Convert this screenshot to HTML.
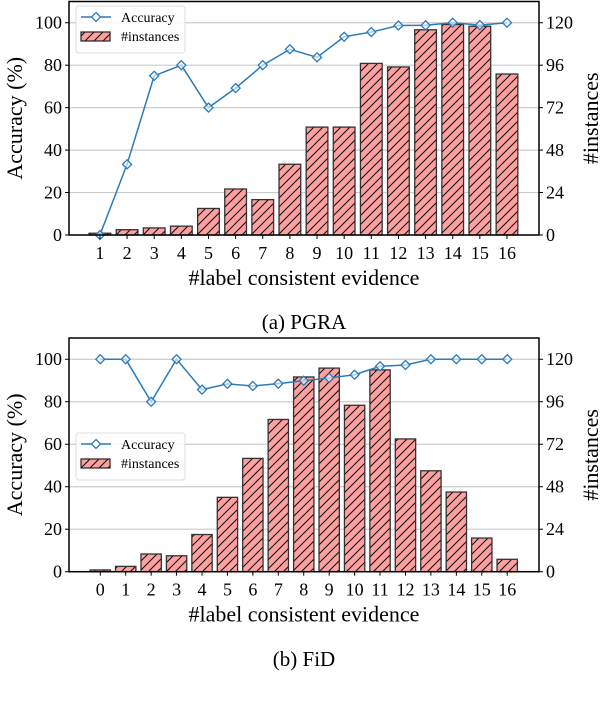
<!DOCTYPE html>
<html><head><meta charset="utf-8"><style>
body{margin:0;background:#fff;}
svg{display:block;font-family:"Liberation Serif",serif;}
</style></head><body>
<svg id="s" width="604" height="704" viewBox="0 0 604 704">
<defs>
<pattern id="hatch" patternUnits="userSpaceOnUse" width="9" height="9">
<rect width="9" height="9" fill="#ffa0a0"/>
<path d="M-1,10 L10,-1 M-1,1 L1,-1 M8,10 L10,8" stroke="#111" stroke-width="1.1"/>
</pattern>
</defs>
</svg>
<script>
const catsA=[1,2,3,4,5,6,7,8,9,10,11,12,13,14,15,16];
const instA=[1,3,4,5,15,26,20,40,61,61,97,95,116,119,118,91];
const accA=[0,33.3,75,80,60,69.2,80,87.5,83.7,93.4,95.6,98.7,98.8,100,98.9,100];
const catsB=[0,1,2,3,4,5,6,7,8,9,10,11,12,13,14,15,16];
const instB=[1,3,10,9,21,42,64,86,110,115,94,114,75,57,45,19,7];
const accB=[100,100,80,100,85.7,88.4,87.4,88.5,89.9,91.2,92.7,96.7,97.3,100,100,100,100];
const leftTicks=[0,20,40,60,80,100];
const rightTicks=[0,24,48,72,96,120];
const NS="http://www.w3.org/2000/svg";
const svg=document.getElementById('s');
function mk(tag,attrs,parent,txt){const e=document.createElementNS(NS,tag);for(const k in attrs)e.setAttribute(k,attrs[k]);if(txt!==undefined)e.textContent=txt;(parent||svg).appendChild(e);return e;}
function chart(cfg){
  const g=mk('g',{});
  
  
  const L=69,R=539,T=cfg.top,B=cfg.bottom;
  const x=v=>L+(v-cfg.xmin)/(cfg.xmax-cfg.xmin)*(R-L);
  const yl=v=>B-v/110*(B-T);
  const yr=v=>B-v/132*(B-T);
  const bw=(x(1)-x(0))*0.8;
  leftTicks.forEach(t=>{const l=mk('line',{x1:L,x2:R,y1:yl(t),y2:yl(t),stroke:'#cccccc','stroke-width':1.2},g);
    });
  cfg.cats.forEach((c,i)=>{const r=mk('rect',{x:x(c)-bw/2,y:yr(cfg.inst[i]),width:bw,height:B-yr(cfg.inst[i]),fill:'url(#hatch)',stroke:'#333','stroke-width':1.3},g);
    });
  const pts=cfg.cats.map((c,i)=>x(c)+','+yl(cfg.acc[i])).join(' ');
  const pl=mk('polyline',{points:pts,fill:'none',stroke:'#2b7bba','stroke-width':1.5},g);
  
  cfg.cats.forEach((c,i)=>{const cx=x(c),cy=yl(cfg.acc[i]);const m=mk('polygon',{points:`${cx},${cy-4.5} ${cx+4.5},${cy} ${cx},${cy+4.5} ${cx-4.5},${cy}`,fill:'#fff','fill-opacity':0.6,stroke:'#2b7bba','stroke-width':1.3},g);
    });
  const fr=mk('rect',{x:L,y:T,width:R-L,height:B-T,fill:'none',stroke:'#000','stroke-width':1.5},g);
  
  leftTicks.forEach(t=>{mk('line',{x1:L-4,x2:L,y1:yl(t),y2:yl(t),stroke:'#000'},g);
    const tx=mk('text',{x:L-7,y:yl(t)+6,'text-anchor':'end','font-size':18},g,t);
    });
  rightTicks.forEach(t=>{mk('line',{x1:R,x2:R+4,y1:yr(t),y2:yr(t),stroke:'#000'},g);
    const tx=mk('text',{x:R+7,y:yr(t)+6,'font-size':18},g,t);
    });
  cfg.cats.forEach(c=>{mk('line',{x1:x(c),x2:x(c),y1:B,y2:B+4,stroke:'#000'},g);
    const tx=mk('text',{x:x(c),y:B+24,'text-anchor':'middle','font-size':18},g,c);
    });
  const xl=mk('text',{x:(L+R)/2,y:B+50,'text-anchor':'middle','font-size':22},g,'#label consistent evidence');
  
  const cy=(T+B)/2;
  const ylt=mk('text',{x:22,y:cy,'text-anchor':'middle','font-size':22,transform:`rotate(-90 22 ${cy})`},g,'Accuracy (%)');
  
  const yrt=mk('text',{x:598,y:cy,'text-anchor':'middle','font-size':22,transform:`rotate(-90 598 ${cy})`},g,'#instances');
  
  const cap=mk('text',{x:304,y:cfg.capY,'text-anchor':'middle','font-size':21},g,cfg.caption);
  
  const lg=mk('g',{},g);
  
  const ly=cfg.legY;
  mk('rect',{x:76,y:ly,width:109,height:47,rx:3,fill:'#fff','fill-opacity':0.85,stroke:'#ddd'},lg);
  mk('line',{x1:81,x2:111,y1:ly+11,y2:ly+11,stroke:'#2b7bba','stroke-width':1.5},lg);
  mk('polygon',{points:`96,${ly+6.5} 100.5,${ly+11} 96,${ly+15.5} 91.5,${ly+11}`,fill:'#fff',stroke:'#2b7bba','stroke-width':1.3},lg);
  const t1=mk('text',{x:121,y:ly+16,'font-size':14},lg,'Accuracy');
  
  mk('rect',{x:81,y:ly+26,width:29,height:9,fill:'url(#hatch)',stroke:'#222','stroke-width':1.2},lg);
  const t2=mk('text',{x:121,y:ly+35,'font-size':14},lg,'#instances');
  
}
chart({name:'chart-pgra',top:1.5,bottom:235,xmin:-0.14,xmax:17.18,cats:catsA,inst:instA,acc:accA,caption:'(a) PGRA',capY:329,legY:6});
chart({name:'chart-fid',top:338,bottom:571.7,xmin:-1.23,xmax:17.25,cats:catsB,inst:instB,acc:accB,caption:'(b) FiD',capY:666,legY:433});
</script>
</body></html>
